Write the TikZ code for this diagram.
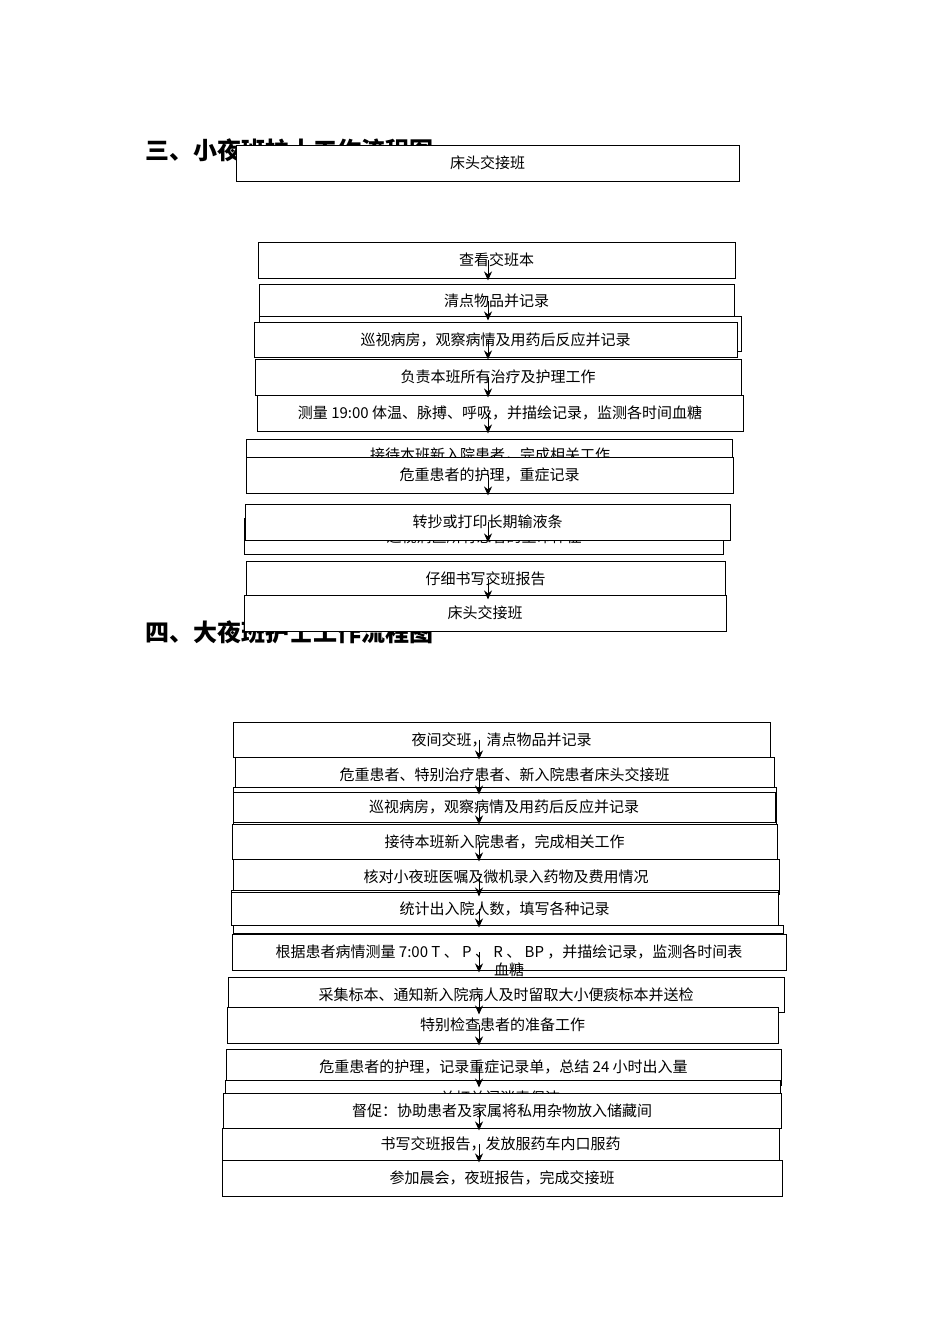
\documentclass[tikz,border=0pt]{standalone}
\usepackage{fontspec}
\setmainfont{Liberation Serif}
\newfontfamily\cjk{Noto Sans CJK SC}
\usetikzlibrary{arrows.meta}
\newcommand\bx[6]{\node[box,minimum width={#4-#2},minimum height={#5-#3}] (#1) at ({(#2+#4)/2},{(#3+#5)/2}) {#6};}
\newcommand\ar[2]{\draw[arr] (#1.center -| #2) -- ([yshift=-2pt]#1.south -| #2);}
\begin{document}
\begin{tikzpicture}[x=1pt,y=-1pt,
  box/.style={draw=black,line width=0.9pt,fill=white,inner sep=0pt,font=\cjk\fontsize{15}{18}\selectfont},
  lbl/.style={inner sep=0pt,font=\cjk\fontsize{15}{18}\selectfont},
  ttl/.style={anchor=west,inner sep=0pt,font=\cjk\bfseries\fontsize{24}{28}\selectfont},
  arr/.style={-{Stealth[length=9pt,width=8pt]},line width=1pt}]
\useasboundingbox[fill=white] (0,0) rectangle (950,1344);
\coordinate (ax) at (488,0);
\coordinate (bx) at (479,0);
\node[ttl] (t1) at (145,150) {三、小夜班护士工作流程图};
\bx{A}{236}{145}{739}{181}{床头交接班}
\bx{B}{258}{242}{735}{278}{查看交班本}
\bx{C}{259}{284}{734}{318}{清点物品并记录}
\bx{H1}{259}{316}{741}{351}{}
\bx{D}{254}{322}{737}{357}{巡视病房，观察病情及用药后反应并记录}
\bx{E}{255}{359}{741}{395}{负责本班所有治疗及护理工作}
\bx{F}{257}{395}{743}{431}{测量 19:00 体温、脉搏、呼吸，并描绘记录，监测各时间血糖}
\bx{G}{246}{439}{732}{475}{}
\node[lbl] (Gt) at (490,455) {接待本班新入院患者，完成相关工作};
\bx{H}{246}{457}{733}{493}{危重患者的护理，重症记录}
\bx{H2}{244}{518}{723}{554}{}
\node[lbl] (H2t) at (484,537) {巡视病区所有患者的生命体征};
\bx{I}{245}{504}{730}{540}{转抄或打印长期输液条}
\bx{J}{246}{561}{725}{597}{仔细书写交班报告}
\node[ttl] (t2) at (145,632) {四、大夜班护士工作流程图};
\bx{K}{244}{595}{726}{631}{床头交接班}
\ar{B}{ax}\ar{C}{ax}\ar{D}{ax}\ar{E}{ax}\ar{F}{ax}\ar{H}{ax}\ar{I}{ax}\ar{J}{ax}
%
\bx{L1}{233}{722}{770}{757}{夜间交班，清点物品并记录}
\bx{L2}{235}{757}{774}{792}{危重患者、特别治疗患者、新入院患者床头交接班}
\bx{M1}{233}{787}{776}{824}{}
\bx{L3}{233}{792}{775}{822}{巡视病房，观察病情及用药后反应并记录}
\bx{L4}{232}{824}{777}{859}{接待本班新入院患者，完成相关工作}
\bx{L5}{233}{859}{779}{894}{核对小夜班医嘱及微机录入药物及费用情况}
\bx{M2}{231}{890}{778}{925}{}
\bx{L6}{231}{892}{778}{925}{统计出入院人数，填写各种记录}
\bx{M3}{233}{925}{783}{933}{}
\bx{L7}{232}{934}{786}{970}{根据患者病情测量 7:00 T 、 P 、 R 、 BP ，并描绘记录，监测各时间表}
\node[lbl] (L7b) at (509,970) {血糖};
\bx{L8}{228}{977}{784}{1012}{采集标本、通知新入院病人及时留取大小便痰标本并送检}
\bx{L9}{227}{1007}{778}{1043}{特别检查患者的准备工作}
\bx{L10}{226}{1049}{781}{1085}{危重患者的护理，记录重症记录单，总结 24 小时出入量}
\bx{M4}{225}{1080}{780}{1118}{}
\node[lbl] (M4t) at (500,1098) {关灯关门消毒保洁};
\bx{L11}{223}{1093}{781}{1128}{督促：协助患者及家属将私用杂物放入储藏间}
\bx{L12}{222}{1128}{779}{1160}{书写交班报告，发放服药车内口服药}
\bx{L13}{222}{1160}{782}{1196}{参加晨会，夜班报告，完成交接班}
\ar{L1}{bx}\ar{L2}{bx}\ar{L3}{bx}\ar{L4}{bx}\ar{L5}{bx}\ar{L6}{bx}\ar{L7}{bx}\ar{L8}{bx}\ar{L9}{bx}\ar{L10}{bx}\ar{L11}{bx}\ar{L12}{bx}
\end{tikzpicture}
\end{document}
